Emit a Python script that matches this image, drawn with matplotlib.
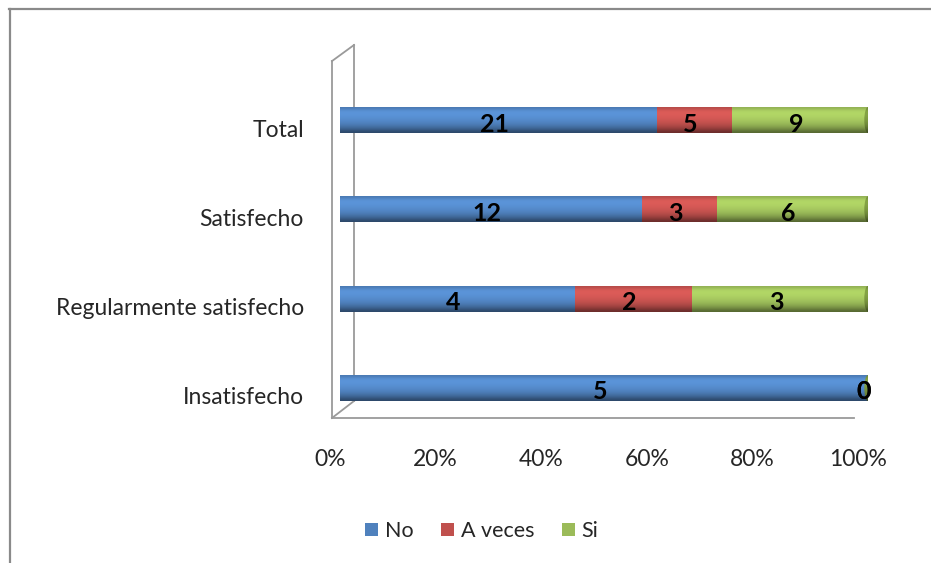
import matplotlib
matplotlib.use('Agg')
import matplotlib.pyplot as plt
import matplotlib.transforms as mtransforms
from matplotlib.patches import Ellipse, Patch
from matplotlib.lines import Line2D
import numpy as np

categories = ['Insatisfecho', 'Regularmente satisfecho', 'Satisfecho', 'Total']
series_names = ['No', 'A veces', 'Si']
no_vals = [5, 4, 12, 21]
aveces_vals = [0, 2, 3, 5]
si_vals = [0, 3, 6, 9]
x_ticks = [0, 0.2, 0.4, 0.6, 0.8, 1.0]
x_tick_labels = ['0%', '20%', '40%', '60%', '80%', '100%']

base_colors = ['#4F81BD', '#C0504D', '#9BBB59']
text_color = '#262626'

plt.rcParams['font.family'] = ['Lato', 'DejaVu Sans']

# shading profile across the cylinder, top -> bottom
shade = np.array([0.95, 1.12, 1.15, 1.14, 1.11, 1.07, 1.02, 0.95, 0.85, 0.72, 0.56])


def gradient_fill(ax, patch, color, extent):
    rgb = np.array(matplotlib.colors.to_rgb(color))
    img = np.clip(shade[:, None, None] * rgb[None, None, :], 0, 1)
    im = ax.imshow(img, extent=extent, aspect='auto', interpolation='bicubic', zorder=2)
    im.set_clip_path(patch)


fig = plt.figure(figsize=(9.31, 5.63), dpi=100)
ax = fig.add_axes([340 / 931, (563 - 418) / 563, 528 / 931, 373 / 563])

data = np.array([no_vals, aveces_vals, si_vals], dtype=float)
totals = data.sum(axis=0)
shares = data / totals
y = np.arange(len(categories))
bar_h = 0.29

left = np.zeros(len(categories))
for i, name in enumerate(series_names):
    bars = ax.barh(y, shares[i], left=left, height=bar_h, color='none', edgecolor='none', zorder=2)
    for b in bars:
        x0, y0 = b.get_x(), b.get_y()
        w, h = b.get_width(), b.get_height()
        if w > 0:
            gradient_fill(ax, b, base_colors[i], [x0, x0 + w, y0, y0 + h])
    left = left + shares[i]

# rounded ends of the cylinders
cap_w = 0.014
for j in range(len(categories)):
    start = Ellipse((0, y[j]), cap_w, bar_h, facecolor='none', edgecolor='none')
    ax.add_patch(start)
    gradient_fill(ax, start, base_colors[0], [-cap_w, cap_w, y[j] - bar_h / 2, y[j] + bar_h / 2])
    end = Ellipse((1.0, y[j]), cap_w, bar_h, facecolor='none', edgecolor='none')
    ax.add_patch(end)
    gradient_fill(ax, end, '#748F3C', [1 - cap_w, 1 + cap_w, y[j] - bar_h / 2, y[j] + bar_h / 2])

# value labels
lbl_off = mtransforms.ScaledTranslation(-4 / 100, -4 / 100, fig.dpi_scale_trans)
left = np.zeros(len(categories))
for i in range(len(series_names)):
    for j in range(len(categories)):
        cx = left[j] + shares[i][j] / 2
        ax.text(cx, y[j], str(int(data[i][j])), ha='center', va='center',
                fontsize=18, fontweight='bold', color='black', zorder=5,
                transform=ax.transData + lbl_off)
    left = left + shares[i]

ax.set_xlim(0, 1)
ax.set_ylim(-0.336, 3.84)

# 3d walls
wall = dict(color='#9a9a9a', lw=1.3, clip_on=False, zorder=1)
ax.plot([0.0265, 0.0265], [-0.146, 3.84], **wall)
ax.plot([-0.0152, -0.0152], [-0.336, 3.66], **wall)
ax.plot([-0.0152, 0.0265], [3.66, 3.84], **wall)
ax.plot([-0.0152, 0.0265], [-0.336, -0.146], **wall)
ax.plot([-0.0152, 0.973], [-0.336, -0.336], **wall)

for s in ax.spines.values():
    s.set_visible(False)

ax.set_xticks(x_ticks)
ax.set_xticklabels(x_tick_labels, fontsize=16.5, color=text_color)
ax.set_yticks(y)
ax.set_yticklabels(categories, fontsize=16.5, color=text_color)
ax.tick_params(axis='x', length=0, pad=22)
ax.tick_params(axis='y', length=0, pad=26)
xoff = mtransforms.ScaledTranslation(-10 / 100, 0, fig.dpi_scale_trans)
for t in ax.get_xticklabels():
    t.set_transform(t.get_transform() + xoff)
yoff = mtransforms.ScaledTranslation(0, -8 / 100, fig.dpi_scale_trans)
for t in ax.get_yticklabels():
    t.set_transform(t.get_transform() + yoff)

handles = [Patch(facecolor=c, edgecolor='none') for c in base_colors]
fig.legend(handles, series_names, loc='center', bbox_to_anchor=(482 / 931, 1 - 531 / 563),
           ncol=3, frameon=False, fontsize=15.5, handlelength=0.6, handleheight=0.6,
           handletextpad=0.3, columnspacing=1.3, labelcolor=text_color)

# chart frame
frame = dict(color='#8a8a8a', lw=1.6, transform=fig.transFigure)
fig.add_artist(Line2D([9 / 931, 1], [1 - 8.5 / 563, 1 - 8.5 / 563], **frame))
fig.add_artist(Line2D([9.5 / 931, 9.5 / 931], [0, 1 - 8.5 / 563], **frame))

fig.savefig('out.png', dpi=100, facecolor='white')
